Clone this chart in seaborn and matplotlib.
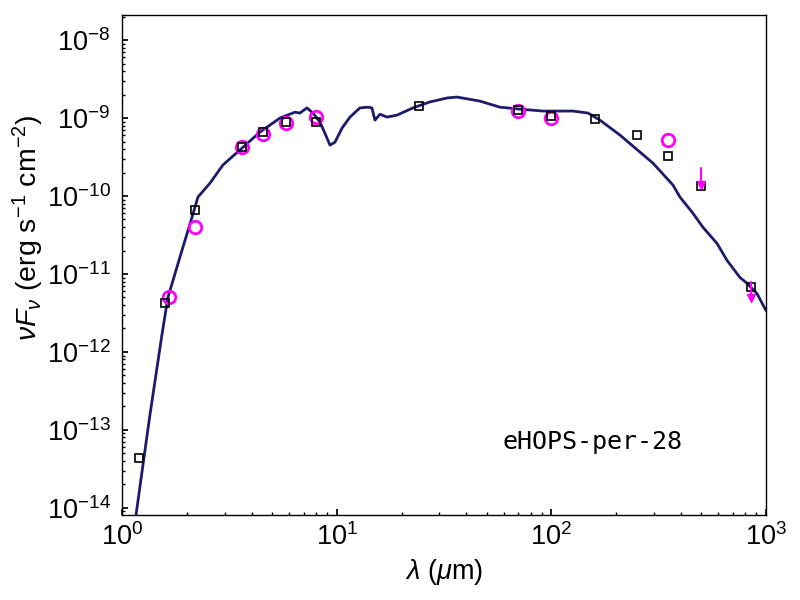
import matplotlib
matplotlib.use("Agg")
import matplotlib.pyplot as plt
import numpy as np
import seaborn as sns

# model SED
model_wav = [1.119, 1.156, 1.259, 1.344, 1.433, 1.528, 1.630, 1.894, 2.109, 2.249,
             2.558, 2.941, 3.53, 4.375, 5.425, 6.37, 6.72, 7.25, 7.73, 8.33,
             8.79, 9.28, 9.79, 10.55, 11.5, 12.8, 13.95, 14.56, 15.04, 15.87,
             17.11, 19.04, 22.6, 27.1, 32.6, 36.3, 46.4, 57.5, 69.8, 91.3,
             126.0, 148.0, 168.3, 208.6, 258.6, 297.3, 368.6, 397.2, 456.8, 508.2,
             591.0, 657.7, 756.5, 815.5, 907.9, 1000.0]
model_flux = [3.9e-15, 7.9e-15, 4.3e-14, 1.56e-13, 5.07e-13, 1.65e-12, 5.0e-12, 2.0e-11, 5.3e-11, 9.7e-11,
              1.46e-10, 2.5e-10, 3.9e-10, 6.6e-10, 1.0e-9, 1.19e-9, 1.16e-9, 1.35e-9, 1.16e-9, 8.9e-10,
              6.4e-10, 4.5e-10, 4.9e-10, 7.4e-10, 1.03e-9, 1.35e-9, 1.38e-9, 1.35e-9, 9.4e-10, 1.12e-9,
              1.03e-9, 1.09e-9, 1.35e-9, 1.61e-9, 1.81e-9, 1.86e-9, 1.65e-9, 1.38e-9, 1.31e-9, 1.23e-9,
              1.23e-9, 1.16e-9, 9.4e-10, 6.05e-10, 3.66e-10, 2.64e-10, 1.38e-10, 9.7e-11, 6.0e-11, 3.97e-11,
              2.47e-11, 1.50e-11, 9.0e-12, 7.6e-12, 5.6e-12, 3.4e-12]

# model photometry (squares)
sq_wav = [1.2, 1.58, 2.19, 3.6, 4.5, 5.8, 8.0, 24.0, 70.0, 100.0, 160.0, 250.0, 350.0, 500.0, 850.0]
sq_flux = [4.3e-14, 4.3e-12, 6.6e-11, 4.2e-10, 6.6e-10, 9.0e-10, 8.8e-10, 1.43e-9, 1.27e-9,
           1.06e-9, 9.7e-10, 6.05e-10, 3.26e-10, 1.34e-10, 6.9e-12]

# observed photometry (circles)
obs_wav = [1.65, 2.17, 3.6, 4.5, 5.8, 8.0, 70.0, 100.0, 350.0]
obs_flux = [5.1e-12, 4.0e-11, 4.3e-10, 6.2e-10, 8.6e-10, 1.02e-9, 1.24e-9, 1.0e-9, 5.3e-10]

# upper limits
ul_wav = [500.0, 850.0]
ul_flux = [2.26e-10, 7.9e-12]

source_name = "eHOPS-per-28"

sns.set_theme(style="ticks")
plt.rcParams["font.family"] = ["Liberation Sans", "DejaVu Sans"]
plt.rcParams["mathtext.fontset"] = "custom"
plt.rcParams["mathtext.rm"] = "Liberation Sans"
plt.rcParams["mathtext.it"] = "Liberation Sans:italic"
plt.rcParams["mathtext.bf"] = "Liberation Sans:bold"
for key in ["text.color", "axes.labelcolor", "xtick.color", "ytick.color", "axes.edgecolor"]:
    plt.rcParams[key] = "black"

fig, ax = plt.subplots(figsize=(8, 6), dpi=100)
fig.subplots_adjust(left=0.153, right=0.9575, top=0.975, bottom=0.1417)

sns.lineplot(x=model_wav, y=model_flux, color="#1c1c6b", linewidth=2, sort=False,
             estimator=None, ax=ax)
sns.lineplot(x=obs_wav, y=obs_flux, linestyle="", marker="o", markersize=9,
             markerfacecolor="none", markeredgecolor="magenta", markeredgewidth=2,
             estimator=None, ax=ax)
sns.lineplot(x=sq_wav, y=sq_flux, linestyle="", marker="s", markersize=6,
             markerfacecolor="none", markeredgecolor="black", markeredgewidth=1.2,
             estimator=None, ax=ax)

for w, f in zip(ul_wav, ul_flux):
    ax.plot([w, w], [f, f * 0.62], color="magenta", lw=1.5)
    ax.plot(w, f * 0.62, marker="v", color="magenta", markersize=6, linestyle="")

ax.set_xscale("log")
ax.set_yscale("log")
ax.set_xlim(1, 1000)
ax.set_ylim(8.1e-15, 2.1e-8)

ax.tick_params(which="both", direction="in", top=False, right=False, labelsize=19.5)
ax.tick_params(which="major", length=4)
ax.tick_params(which="minor", length=2.5)
ax.tick_params(axis="x", which="both", pad=6)
ax.tick_params(axis="y", which="both", pad=8.5)

ax.set_xlabel(r"$\lambda$ ($\mu$m)", fontsize=19.5)
ax.set_ylabel(r"$\nu F_\nu$ (erg s$^{-1}$ cm$^{-2}$)", fontsize=20.5)
ax.xaxis.set_label_coords(0.5, -0.085)
ax.yaxis.set_label_coords(-0.118, 0.575)

ax.text(0.59, 0.145, source_name, transform=ax.transAxes, va="center", ha="left",
        fontsize=18, family="DejaVu Sans Mono")

for s in ax.spines.values():
    s.set_linewidth(1.0)
    s.set_color("black")

fig.savefig("out.png", dpi=100)
